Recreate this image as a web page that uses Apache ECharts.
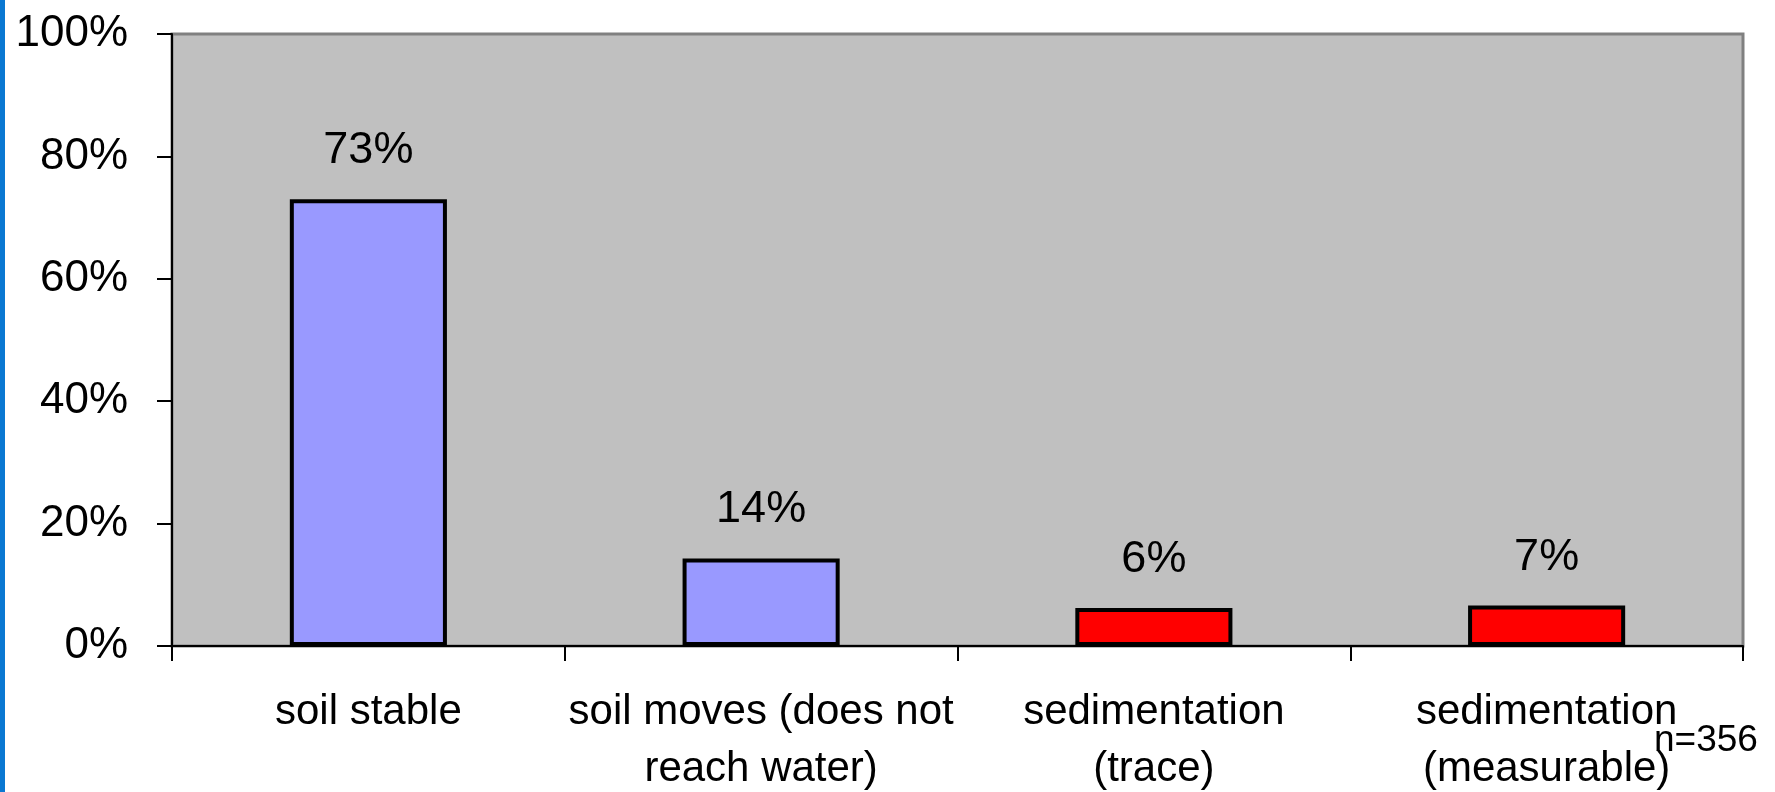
<!DOCTYPE html>
<html>
<head>
<meta charset="utf-8">
<script src="https://cdn.jsdelivr.net/npm/echarts@6/dist/echarts.min.js"></script>
<style>
html, body { margin: 0; padding: 0; background: #ffffff; }
#chart { width: 1775px; height: 792px; }
</style>
</head>
<body>
<div id="chart"></div>
<script>
const categories = ['soil stable', 'soil moves (does not\nreach water)', 'sedimentation\n(trace)', 'sedimentation\n(measurable)'];
const values = [73, 14.3, 6.2, 6.6];
const groups = ['soil', 'soil', 'sedimentation', 'sedimentation'];
const yTicks = [0, 20, 40, 60, 80, 100];
const sampleNote = 'n=356';

const groupColors = { soil: '#9999FF', sedimentation: '#FF0000' };
const FONT = "'Liberation Sans', Arial, sans-serif";

const chart = echarts.init(document.getElementById('chart'), null, { renderer: 'canvas' });
chart.setOption({
  backgroundColor: '#ffffff',
  animation: false,
  grid: {
    left: 172, top: 34, right: 32, bottom: 146,
    outerBoundsMode: 'none', containLabel: false,
    show: true, backgroundColor: '#C0C0C0', borderColor: '#808080', borderWidth: 3
  },
  xAxis: {
    type: 'category',
    data: categories,
    axisLine: { lineStyle: { color: '#000', width: 2 } },
    axisTick: { show: true, length: 15, lineStyle: { color: '#000', width: 2 } },
    axisLabel: {
      interval: 0, margin: 38, color: '#000', fontFamily: FONT, fontSize: 42, lineHeight: 57
    }
  },
  yAxis: {
    type: 'value',
    min: yTicks[0], max: yTicks[yTicks.length - 1], interval: yTicks[1] - yTicks[0],
    splitLine: { show: false },
    axisLine: { show: true, lineStyle: { color: '#000', width: 2 } },
    axisTick: { show: true, length: 15, lineStyle: { color: '#000', width: 2 } },
    axisLabel: { formatter: '{value}%', margin: 44, color: '#000', fontFamily: FONT, fontSize: 44 }
  },
  series: [{
    type: 'bar',
    data: values.map((v, i) => ({ value: v, itemStyle: { color: groupColors[groups[i]] } })),
    barCategoryGap: '60%',
    itemStyle: { borderColor: '#000', borderWidth: 4 },
    label: {
      show: true, position: 'top', distance: 26,
      formatter: p => Math.round(p.value) + '%',
      color: '#000', fontFamily: FONT, fontSize: 45
    }
  }],
  graphic: [
    { type: 'rect', left: 0, top: 0, shape: { width: 5, height: 792 }, style: { fill: '#0A78D2' } },
    { type: 'text', left: 1654, top: 722, style: { text: sampleNote, fill: '#000', font: "37px 'Liberation Sans', Arial, sans-serif" } }
  ]
});
</script>
</body>
</html>
